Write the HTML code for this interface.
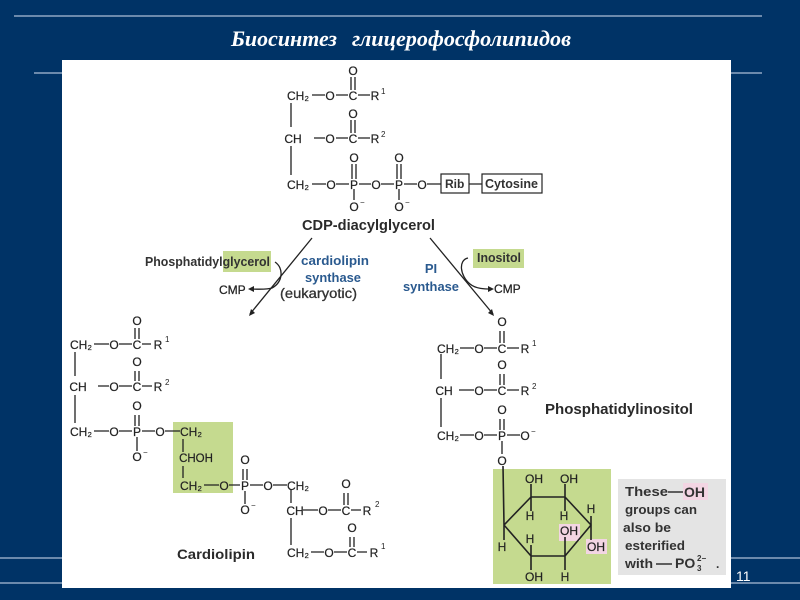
<!DOCTYPE html>
<html><head><meta charset="utf-8"><style>
html,body{margin:0;padding:0;background:#003366;width:800px;height:600px;overflow:hidden}
svg{display:block}
.t{font:12px "Liberation Sans",sans-serif;fill:#222;text-anchor:middle;stroke:#222;stroke-width:.2}
.s{font:8px "Liberation Sans",sans-serif;fill:#222}
.b{font:bold 14px "Liberation Sans",sans-serif;fill:#2a2a2a}
.bl{font:bold 13px "Liberation Sans",sans-serif;fill:#2b5a8f;text-anchor:middle}
.g{font:bold 12px "Liberation Sans",sans-serif;fill:#333}
.r{font:12px "Liberation Sans",sans-serif;fill:#222;stroke:#222;stroke-width:.25}
line,polyline,path.l{stroke:#222;stroke-width:1.3;fill:none}
</style></head><body>
<svg width="800" height="600" viewBox="0 0 800 600" xmlns="http://www.w3.org/2000/svg">
<defs><filter id="bl" x="0" y="0" width="100%" height="100%"><feGaussianBlur stdDeviation="0.35"/></filter></defs>
<rect width="800" height="600" fill="#003366"/>
<line x1="14" y1="16" x2="762" y2="16" style="stroke:#8fa8c4;stroke-width:1.5"/><line x1="34" y1="73" x2="762" y2="73" style="stroke:#8fa8c4;stroke-width:1.5"/><line x1="0" y1="558" x2="800" y2="558" style="stroke:#8fa8c4;stroke-width:1.5"/><line x1="0" y1="583" x2="800" y2="583" style="stroke:#8fa8c4;stroke-width:1.5"/>
<text x="231" y="46" textLength="106" lengthAdjust="spacingAndGlyphs" style="font:italic bold 22px 'Liberation Serif',serif;fill:#fff">Биосинтез</text>
<text x="352" y="46" textLength="219" lengthAdjust="spacingAndGlyphs" style="font:italic bold 22px 'Liberation Serif',serif;fill:#fff">глицерофосфолипидов</text>
<rect x="62" y="60" width="669" height="528" fill="#fff"/>
<text x="736" y="581" style="font:14px 'Liberation Sans',sans-serif;fill:#fff">11</text>

<g filter="url(#bl)">
<!-- highlights -->
<rect x="223" y="251" width="48" height="21" fill="#c5da8f"/>
<rect x="473" y="249" width="51" height="19" fill="#c5da8f"/>
<rect x="173" y="422" width="60" height="71" fill="#c5da8f"/>
<rect x="493" y="469" width="118" height="115" fill="#c5da8f"/>
<rect x="618" y="479" width="108" height="96" fill="#e4e4e4"/>
<rect x="559" y="524" width="21" height="17" fill="#f3d5e3"/>
<rect x="586" y="539" width="21" height="15" fill="#f3d5e3"/>
<rect x="683" y="483" width="25" height="17" fill="#f3d5e3"/>

<!-- CDP-diacylglycerol -->
<text class="t" x="298" y="100">CH₂</text><text class="t" x="330" y="100">O</text><text class="t" x="353" y="100">C</text><text class="t" x="375" y="100">R</text>
<text class="t" x="353" y="75">O</text><text class="t" x="353" y="118">O</text>
<text class="t" x="293" y="143">CH</text><text class="t" x="330" y="143">O</text><text class="t" x="353" y="143">C</text><text class="t" x="375" y="143">R</text>
<text class="t" x="298" y="189">CH₂</text><text class="t" x="331" y="189">O</text><text class="t" x="354" y="189">P</text><text class="t" x="376" y="189">O</text><text class="t" x="399" y="189">P</text><text class="t" x="422" y="189">O</text>
<text class="t" x="354" y="162">O</text><text class="t" x="399" y="162">O</text><text class="t" x="354" y="211">O</text><text class="t" x="399" y="211">O</text>
<text class="s" x="381" y="94">1</text><text class="s" x="381" y="137">2</text><text class="s" x="360" y="205">−</text><text class="s" x="405" y="205">−</text>
<path class="l" d="M291 103V127M291 146V175M312 95H325M336 95H348M358 95H370M314 138H325M336 138H348M358 138H370M312 184H326M336 184H349M359 184H371M381 184H394M404 184H417M427 184H441M469 184H482M351 77V90M355 77V90M351 120V133M355 120V133M352 164V179M356 164V179M397 164V179M401 164V179M354 189V200M399 189V200"/>
<rect x="441" y="174" width="28" height="19" fill="none" stroke="#222" stroke-width="1.2"/>
<rect x="482" y="174" width="60" height="19" fill="none" stroke="#222" stroke-width="1.2"/>
<text class="g" x="445" y="188" style="font-size:12px">Rib</text><text class="g" x="485" y="188" textLength="53" lengthAdjust="spacingAndGlyphs" style="font-size:12.5px">Cytosine</text>
<text class="b" x="302" y="230" textLength="133" lengthAdjust="spacingAndGlyphs" style="font-size:14.5px">CDP-diacylglycerol</text>

<!-- arrows -->
<path class="l" d="M312 238L250 314M430 238L493 314"/>
<path d="M249 316l2-7 4 4z M494 316l-6-3 4-4z" fill="#222"/>
<path class="l" d="M275 262C284 268 283 282 272 288C266 290 255 289 250 289M468 258C458 260 460 276 470 284C476 289 485 289 491 289"/>
<path d="M248 289l6-3v6z M494 289l-6-3v6z" fill="#222"/>
<text class="g" x="145" y="266" textLength="125" lengthAdjust="spacingAndGlyphs" style="font-size:12.5px">Phosphatidylglycerol</text>
<text class="r" x="219" y="294">CMP</text><text class="r" x="494" y="293">CMP</text>
<text class="g" x="477" y="262" textLength="44" lengthAdjust="spacingAndGlyphs" style="font-size:12.5px">Inositol</text>
<text class="bl" x="335" y="265" textLength="68" lengthAdjust="spacingAndGlyphs">cardiolipin</text><text class="bl" x="333" y="282" textLength="56" lengthAdjust="spacingAndGlyphs">synthase</text>
<text class="g" x="280" y="298" textLength="77" lengthAdjust="spacingAndGlyphs" style="font-size:13.5px;font-weight:normal;stroke:#333;stroke-width:.3">(eukaryotic)</text>
<text class="bl" x="431" y="273">PI</text><text class="bl" x="431" y="291" textLength="56" lengthAdjust="spacingAndGlyphs">synthase</text>

<!-- Cardiolipin -->
<text class="t" x="81" y="349">CH₂</text><text class="t" x="114" y="349">O</text><text class="t" x="137" y="349">C</text><text class="t" x="158" y="349">R</text>
<text class="t" x="137" y="325">O</text><text class="t" x="137" y="366">O</text><text class="t" x="137" y="410">O</text>
<text class="t" x="78" y="391">CH</text><text class="t" x="114" y="391">O</text><text class="t" x="137" y="391">C</text><text class="t" x="158" y="391">R</text>
<text class="t" x="81" y="436">CH₂</text><text class="t" x="114" y="436">O</text><text class="t" x="137" y="436">P</text><text class="t" x="160" y="436">O</text><text class="t" x="191" y="436">CH₂</text>
<text class="t" x="137" y="461">O</text><text class="t" x="196" y="462" style="font-size:11.5px">CHOH</text>
<text class="t" x="191" y="490">CH₂</text><text class="t" x="224" y="490">O</text><text class="t" x="245" y="490">P</text><text class="t" x="268" y="490">O</text><text class="t" x="298" y="490">CH₂</text>
<text class="t" x="245" y="464">O</text><text class="t" x="245" y="514">O</text>
<text class="t" x="295" y="515">CH</text><text class="t" x="323" y="515">O</text><text class="t" x="346" y="515">C</text><text class="t" x="367" y="515">R</text>
<text class="t" x="346" y="488">O</text><text class="t" x="352" y="532">O</text>
<text class="t" x="298" y="557">CH₂</text><text class="t" x="329" y="557">O</text><text class="t" x="352" y="557">C</text><text class="t" x="374" y="557">R</text>
<text class="s" x="165" y="342">1</text><text class="s" x="165" y="385">2</text><text class="s" x="143" y="455">−</text><text class="s" x="251" y="508">−</text><text class="s" x="375" y="507">2</text><text class="s" x="381" y="549">1</text>
<path class="l" d="M75 352V376M75 395V423M135 328V339M139 328V339M94 344H109M119 344H132M142 344H151M94 431H109M119 431H132M142 431H155M165 431H180M98 386H109M119 386H132M142 386H152M135 371V381M139 371V381M135 415V426M139 415V426M137 437V451M204 485H219M229 485H240M250 485H263M273 485H287M243 469V480M247 469V480M245 491V504M183 439V452M183 466V478M291 489V503M291 518V545M303 510H318M328 510H341M351 510H361M344 493V505M348 493V505M311 552H324M334 552H347M357 552H367M350 537V547M354 537V547"/>
<text class="b" x="177" y="559" textLength="78" lengthAdjust="spacingAndGlyphs">Cardiolipin</text>

<!-- Phosphatidylinositol -->
<text class="t" x="448" y="353">CH₂</text><text class="t" x="479" y="353">O</text><text class="t" x="502" y="353">C</text><text class="t" x="525" y="353">R</text>
<text class="t" x="502" y="326">O</text><text class="t" x="502" y="369">O</text><text class="t" x="502" y="414">O</text>
<text class="t" x="444" y="395">CH</text><text class="t" x="479" y="395">O</text><text class="t" x="502" y="395">C</text><text class="t" x="525" y="395">R</text>
<text class="t" x="448" y="440">CH₂</text><text class="t" x="479" y="440">O</text><text class="t" x="502" y="440">P</text><text class="t" x="525" y="440">O</text>
<text class="t" x="502" y="465">O</text>
<text class="s" x="532" y="346">1</text><text class="s" x="532" y="389">2</text><text class="s" x="531" y="434">−</text>
<path class="l" d="M441 354V379M441 398V427M460 348H474M484 348H497M507 348H519M459 390H474M484 390H497M507 390H519M460 435H474M484 435H497M507 435H520M500 331V343M504 331V343M500 374V385M504 374V385M500 419V430M504 419V430M502 441V454"/>
<text class="b" x="545" y="414" textLength="148" lengthAdjust="spacingAndGlyphs" style="font-size:14.5px">Phosphatidylinositol</text>

<!-- Inositol ring -->
<path class="l" style="stroke-width:1.6" d="M503 466L504 525L531 497H565L591 525L565 556H531L504 525M531 484V511M565 484V511M504 525V540M591 516V540M565 537V570M531 545V570"/>
<text class="t" x="534" y="483">OH</text><text class="t" x="569" y="483">OH</text><text class="t" x="530" y="520">H</text><text class="t" x="564" y="520">H</text><text class="t" x="591" y="513">H</text><text class="t" x="569" y="535">OH</text><text class="t" x="530" y="543">H</text><text class="t" x="502" y="551">H</text><text class="t" x="596" y="551">OH</text><text class="t" x="534" y="581">OH</text><text class="t" x="565" y="581">H</text>

<text class="g" x="625" y="496" textLength="43" lengthAdjust="spacingAndGlyphs" style="font-size:13px">These</text><path d="M668 492H683" stroke="#333" stroke-width="1.5"/><text class="g" x="684" y="497" style="font-size:14px">OH</text>
<text class="g" x="625" y="514" textLength="72" lengthAdjust="spacingAndGlyphs" style="font-size:13px">groups can</text><text class="g" x="623" y="532" textLength="48" lengthAdjust="spacingAndGlyphs" style="font-size:13px">also be</text><text class="g" x="625" y="550" textLength="60" lengthAdjust="spacingAndGlyphs" style="font-size:13px">esterified</text><text class="g" x="625" y="568" textLength="28" lengthAdjust="spacingAndGlyphs" style="font-size:13px">with</text>
<path d="M656 564H672" stroke="#333" stroke-width="1.5"/><text class="g" x="675" y="568" style="font-size:14px">PO</text><text class="g" x="697" y="561" style="font-size:8px">2−</text><text class="g" x="697" y="571" style="font-size:8px">3</text><text class="g" x="716" y="568">.</text>
</g>
</svg>
</body></html>
